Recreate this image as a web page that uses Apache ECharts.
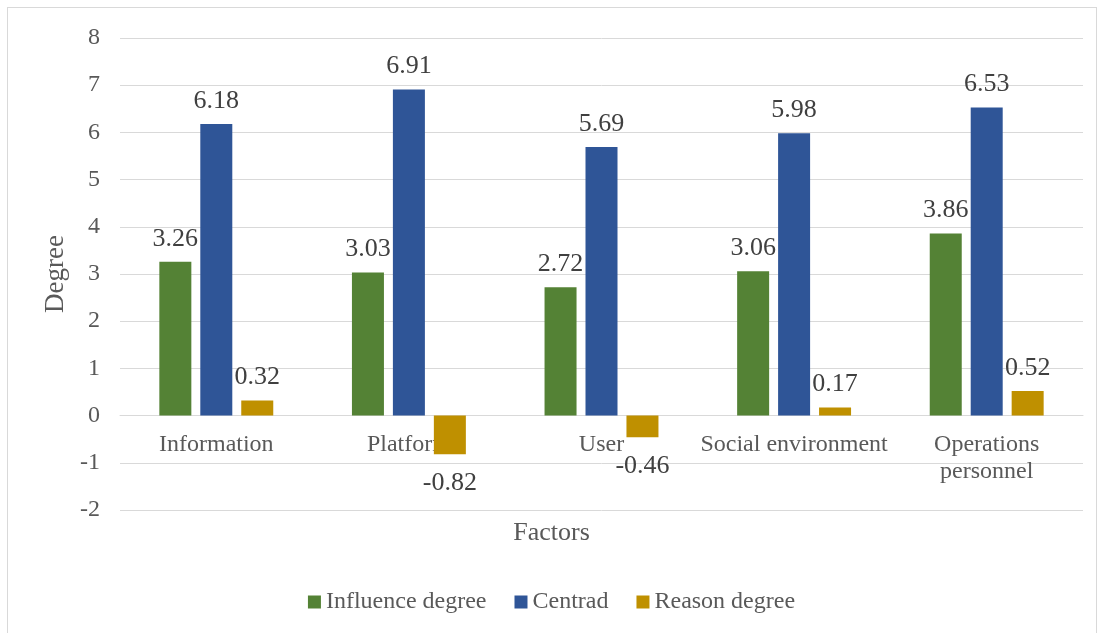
<!DOCTYPE html>
<html>
<head>
<meta charset="utf-8">
<script src="https://cdn.jsdelivr.net/npm/echarts@6/dist/echarts.min.js"></script>
<style>
html, body { margin: 0; padding: 0; background: #fff; }
#frame { position: absolute; left: 7px; top: 7px; width: 1090px; height: 640px; border: 1px solid #d9d9d9; box-sizing: border-box; }
#chart { position: absolute; left: 0; top: 0; width: 1103px; height: 633px; }
</style>
</head>
<body>
<div id="frame"></div>
<div id="chart"></div>
<script>
var categories = ['Information', 'Platform', 'User', 'Social environment', 'Operations\npersonnel'];
var influence = [3.26, 3.03, 2.72, 3.06, 3.86];
var centrad = [6.18, 6.91, 5.69, 5.98, 6.53];
var reason = [0.32, -0.82, -0.46, 0.17, 0.52];

var font = '"Liberation Serif", "Times New Roman", serif';
var chart = echarts.init(document.getElementById('chart'));

function barSeries(name, data, color) {
    return {
        name: name,
        type: 'bar',
        data: data.map(function (v) {
            // negative values get their label below the bar
            return v < 0 ? { value: v, label: { position: 'bottom', distance: 16 } } : v;
        }),
        barWidth: 32,
        barGap: '28%',
        itemStyle: { color: color },
        label: {
            show: true,
            position: 'top',
            distance: 10,
            fontFamily: font,
            fontSize: 26,
            color: '#404040',
            formatter: function (p) { return p.value.toFixed(2); }
        }
    };
}

chart.setOption({
    textStyle: { fontFamily: font },
    grid: { left: 120, right: 20, top: 38, bottom: 123 },
    title: {
        text: 'Factors',
        left: 'center',
        top: 515,
        textStyle: { fontFamily: font, fontSize: 26, fontWeight: 'normal', color: '#595959' }
    },
    legend: {
        bottom: 14,
        left: 'center',
        itemWidth: 13,
        itemHeight: 13,
        itemGap: 28,
        icon: 'rect',
        textStyle: { fontFamily: font, fontSize: 24, color: '#595959' },
        data: ['Influence degree', 'Centrad', 'Reason degree']
    },
    xAxis: {
        type: 'category',
        data: categories,
        position: 'bottom',
        offset: -94.4,
        axisLine: { onZero: false, lineStyle: { color: '#d9d9d9', width: 1 } },
        axisTick: { show: false },
        axisLabel: {
            fontFamily: font,
            fontSize: 24,
            color: '#595959',
            margin: 16,
            lineHeight: 27,
            interval: 0
        }
    },
    yAxis: {
        type: 'value',
        min: -2,
        max: 8,
        interval: 1,
        name: 'Degree',
        nameLocation: 'middle',
        nameGap: 46,
        nameTextStyle: { fontFamily: font, fontSize: 27, color: '#595959' },
        axisLine: { show: false },
        axisTick: { show: false },
        splitLine: { lineStyle: { color: '#d9d9d9', width: 1 } },
        axisLabel: { fontFamily: font, fontSize: 24, color: '#595959', margin: 20 }
    },
    series: [
        barSeries('Influence degree', influence, '#548235'),
        barSeries('Centrad', centrad, '#2F5597'),
        barSeries('Reason degree', reason, '#BF9000')
    ]
});
</script>
</body>
</html>
